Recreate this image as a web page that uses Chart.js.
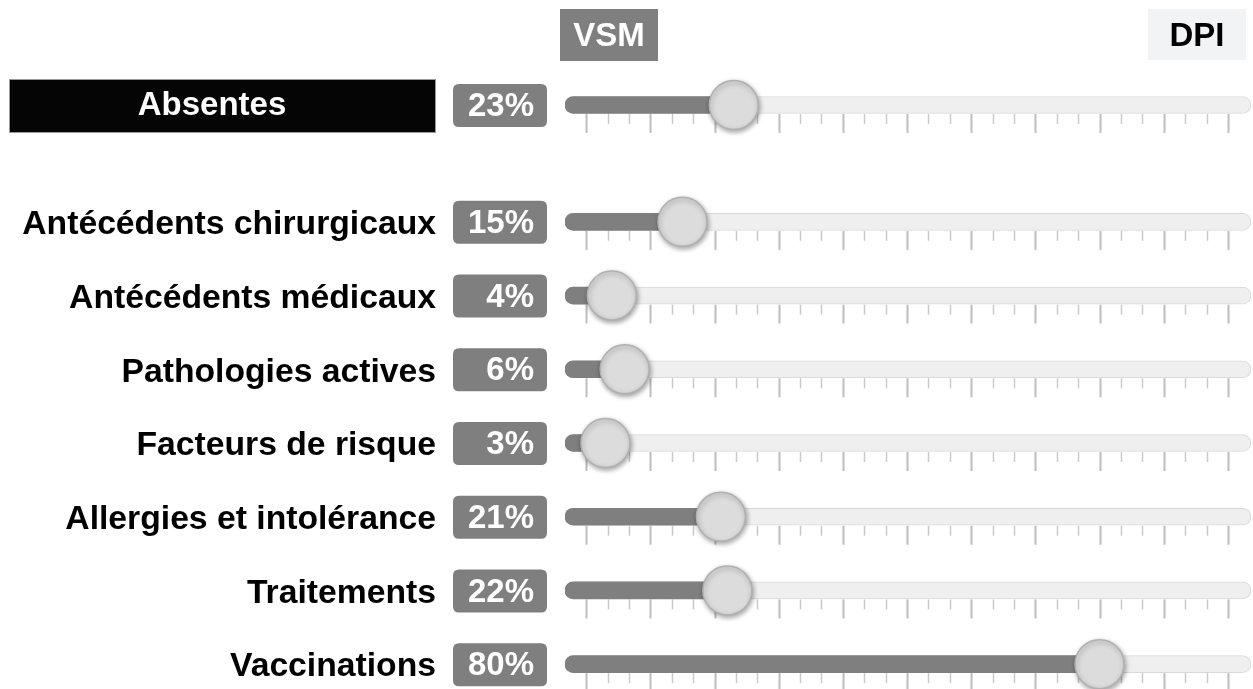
<!DOCTYPE html>
<html>
<head>
<meta charset="utf-8">
<script src="https://cdn.jsdelivr.net/npm/chart.js@4.4.1/dist/chart.umd.min.js"></script>
<style>
  html, body { margin: 0; padding: 0; background: #fff; overflow: hidden; }
  body { width: 1253px; height: 689px; position: relative; }
  canvas { position: absolute; left: 0; display: block; }
  #topChart { top: 0; }
  #rowsChart { top: 140px; }
</style>
</head>
<body>
<canvas id="topChart" width="1253" height="140"></canvas>
<canvas id="rowsChart" width="1253" height="565"></canvas>
<script>
// Données
const headerLabels = ['VSM', 'DPI'];
const topLabels = ['Absentes'];
const topValues = [23];
const rowLabels = [
  'Antécédents chirurgicaux',
  'Antécédents médicaux',
  'Pathologies actives',
  'Facteurs de risque',
  'Allergies et intolérance',
  'Traitements',
  'Vaccinations'
];
const rowValues = [15, 4, 6, 3, 21, 22, 80];

// bornes de la glissière (un peu au-delà de 0 et 100)
const TRACK_MIN = -3.3;
const TRACK_MAX = 103.6;
const FONT = 'bold 33px "Liberation Sans", Arial, sans-serif';
const LABEL_FONT = 'bold 33.7px "Liberation Sans", Arial, sans-serif';

function roundRect(ctx, x, y, w, h, r) {
  ctx.beginPath();
  ctx.moveTo(x + r, y);
  ctx.lineTo(x + w - r, y);
  ctx.quadraticCurveTo(x + w, y, x + w, y + r);
  ctx.lineTo(x + w, y + h - r);
  ctx.quadraticCurveTo(x + w, y + h, x + w - r, y + h);
  ctx.lineTo(x + r, y + h);
  ctx.quadraticCurveTo(x, y + h, x, y + h - r);
  ctx.lineTo(x, y + r);
  ctx.quadraticCurveTo(x, y, x + r, y);
  ctx.closePath();
}

// graduations sous chaque glissière
const ticksPlugin = {
  id: 'sliderTicks',
  beforeDatasetsDraw(chart) {
    const ctx = chart.ctx;
    const xs = chart.scales.x;
    const ys = chart.scales.y;
    ctx.save();
    chart.data.labels.forEach((lab, i) => {
      const yc = ys.getPixelForValue(i);
      const y0 = yc + 9;
      for (let k = 0; k <= 30; k++) {
        const v = k * 10 / 3;
        const x = Math.round(xs.getPixelForValue(v)) + 0.5;
        const major = k % 3 === 0;
        ctx.beginPath();
        ctx.moveTo(x, y0);
        ctx.lineTo(x, y0 + (major ? 19 : 10));
        ctx.lineWidth = major ? 2 : 1.5;
        ctx.strokeStyle = major ? '#bdbdbd' : '#c9c9c9';
        ctx.stroke();
      }
    });
    ctx.restore();
  }
};

// ombre des curseurs
const knobShadowPlugin = {
  id: 'knobShadow',
  beforeDatasetDraw(chart, args) {
    if (args.index !== 0) return;
    const ctx = chart.ctx;
    ctx.save();
    ctx.shadowColor = 'rgba(0,0,0,0.35)';
    ctx.shadowBlur = 5;
    ctx.shadowOffsetX = 1;
    ctx.shadowOffsetY = 2;
  },
  afterDatasetDraw(chart, args) {
    if (args.index !== 0) return;
    chart.ctx.restore();
  }
};

// libellés et pourcentages
const labelsPlugin = {
  id: 'rowLabels',
  afterDraw(chart, args, opts) {
    const ctx = chart.ctx;
    const ys = chart.scales.y;
    const values = opts.values;
    ctx.save();
    ctx.textBaseline = 'middle';
    chart.data.labels.forEach((lab, i) => {
      const yc = ys.getPixelForValue(i);
      if (opts.boxed) {
        ctx.font = FONT;
        ctx.fillStyle = '#050505';
        ctx.fillRect(9, yc - 25, 426, 52);
        ctx.strokeStyle = '#9a9a9a';
        ctx.lineWidth = 1;
        ctx.strokeRect(9.5, yc - 25.5, 426, 53);
        ctx.fillStyle = '#ffffff';
        ctx.textAlign = 'center';
        ctx.fillText(lab, 212, yc + 1);
      } else {
        ctx.font = LABEL_FONT;
        ctx.fillStyle = '#000000';
        ctx.textAlign = 'right';
        ctx.fillText(lab, 436, yc + 3);
      }
      // boîte du pourcentage
      ctx.font = FONT;
      ctx.fillStyle = '#7f7f7f';
      roundRect(ctx, 453, yc - 21, 94, 43, 6);
      ctx.fill();
      ctx.fillStyle = '#ffffff';
      ctx.textAlign = 'right';
      ctx.fillText(values[i] + '%', 534, yc + 2);
    });
    if (opts.header) {
      // en-têtes VSM / DPI
      ctx.font = FONT;
      ctx.textAlign = 'center';
      ctx.fillStyle = '#7f7f7f';
      ctx.fillRect(560, 9, 98, 52);
      ctx.fillStyle = '#ffffff';
      ctx.fillText(headerLabels[0], 609, 37);
      ctx.fillStyle = '#f1f3f5';
      ctx.fillRect(1148, 9, 98, 51);
      ctx.fillStyle = '#000000';
      ctx.fillText(headerLabels[1], 1197, 37);
    }
    ctx.restore();
  }
};

function makeSlider(canvasId, labels, values, pad, extra) {
  return new Chart(document.getElementById(canvasId), {
    data: {
      labels: labels,
      datasets: [
        {
          type: 'scatter',
          data: labels.map((l, i) => ({ x: values[i], y: l })),
          pointRadius: 24.5,
          pointHoverRadius: 24.5,
          pointBackgroundColor: '#dcdcdc',
          pointBorderColor: '#b0b0b0',
          pointBorderWidth: 1.5,
          clip: false,
          order: 0
        },
        {
          type: 'bar',
          indexAxis: 'y',
          data: values.map(v => [TRACK_MIN, v]),
          backgroundColor: '#7f7f7f',
          borderWidth: 0,
          borderRadius: 9,
          borderSkipped: false,
          barThickness: 17,
          grouped: false,
          order: 1
        },
        {
          type: 'bar',
          indexAxis: 'y',
          data: values.map(() => [TRACK_MIN, TRACK_MAX]),
          backgroundColor: '#efefef',
          borderColor: '#d9d9d9',
          borderWidth: 1,
          borderRadius: 9,
          borderSkipped: false,
          barThickness: 17,
          grouped: false,
          order: 2
        }
      ]
    },
    options: {
      responsive: false,
      animation: false,
      events: [],
      layout: { padding: pad, autoPadding: false },
      scales: {
        x: { type: 'linear', min: TRACK_MIN, max: TRACK_MAX, display: false },
        y: { type: 'category', display: false, offset: true }
      },
      plugins: {
        legend: { display: false },
        tooltip: { enabled: false },
        rowLabels: Object.assign({ values: values }, extra)
      }
    },
    plugins: [ticksPlugin, knobShadowPlugin, labelsPlugin]
  });
}

makeSlider('topChart', topLabels, topValues,
  { left: 565, right: 2, top: 80, bottom: 10 },
  { boxed: true, header: true });

makeSlider('rowsChart', rowLabels, rowValues,
  { left: 565, right: 2, top: 45, bottom: 4 },
  { boxed: false, header: false });
</script>
</body>
</html>
